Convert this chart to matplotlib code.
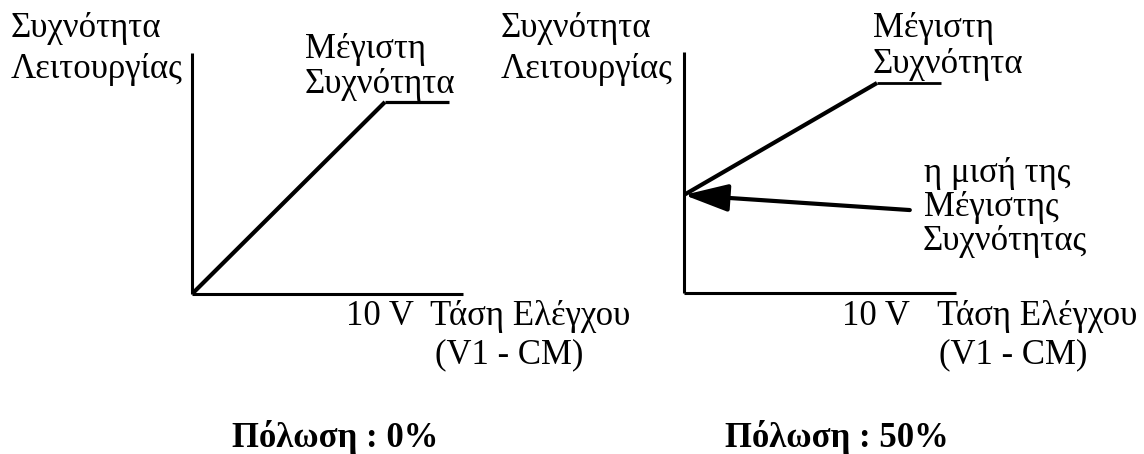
import matplotlib
matplotlib.use("Agg")
import matplotlib.pyplot as plt

plt.rcParams['font.family'] = ['Liberation Serif', 'DejaVu Serif']

W, H = 1144, 454

# control voltage (V) vs output frequency (fraction of max)
volts_0 = [0, 10, 13.3]
freq_0 = [0, 1.0, 1.0]
volts_50 = [0, 10, 13.3]
freq_50 = [0.467, 1.0, 1.0]
arrow_tail = (11.7, 0.395)
arrow_head = (0, 0.467)

titles = ["Πόλωση : 0%", "Πόλωση : 50%"]
ylabel = ["Συχνότητα", "Λειτουργίας"]
maxlabel = ["Μέγιστη", "Συχνότητα"]
halflabel = ["η μισή της", "Μέγιστης", "Συχνότητας"]
xtick = "10 V"
xlabel = ["Τάση Ελέγχου", "(V1 - CM)"]

fig = plt.figure(figsize=(W / 100, H / 100), dpi=100)


def make_ax(x0, y0, sx, sy, xmax, ymax):
    # x0,y0 = pixel position of origin (from top-left), sx/sy = px per unit
    ax = fig.add_axes([x0 / W, (H - y0) / H, xmax * sx / W, ymax * sy / H])
    ax.set_xlim(0, xmax)
    ax.set_ylim(0, ymax)
    ax.set_xticks([])
    ax.set_yticks([])
    ax.patch.set_visible(False)
    for s in ['top', 'right']:
        ax.spines[s].set_visible(False)
    for s in ['left', 'bottom']:
        ax.spines[s].set_linewidth(2.2)
        ax.spines[s].set_capstyle('butt')
    return ax


def txt(x, y, s, **kw):
    # x = left edge, y = baseline, both in pixels from top-left
    kw.setdefault('fontsize', 25)
    kw.setdefault('va', 'baseline')
    fig.text(x / W, 1 - y / H, s, **kw)


ax1 = make_ax(192, 294, 19.3, 192, 14.5, 1.3)
ax1.spines['left'].set_bounds(0, 1.255)
ax1.spines['bottom'].set_bounds(0, 14.04)
ax1.plot(volts_0[:2], freq_0[:2], color='black', lw=3.0, solid_capstyle='butt')
ax1.plot(volts_0[1:], freq_0[1:], color='black', lw=2.3, solid_capstyle='butt')

ax2 = make_ax(684, 293, 19.3, 210, 14.5, 1.3)
ax2.spines['left'].set_bounds(0, 1.148)
ax2.spines['bottom'].set_bounds(0, 14.09)
ax2.plot(volts_50[:2], freq_50[:2], color='black', lw=3.0, solid_capstyle='butt')
ax2.plot(volts_50[1:], freq_50[1:], color='black', lw=2.0, solid_capstyle='butt')
ax2.annotate('', xy=arrow_head, xytext=arrow_tail,
             arrowprops=dict(arrowstyle='-|>,head_length=1.35,head_width=0.42',
                             mutation_scale=20, lw=3, color='black',
                             shrinkA=0, shrinkB=0))

# left panel text
txt(11, 37, ylabel[0])
txt(11, 78, ylabel[1])
txt(305, 58, maxlabel[0])
txt(305, 93, maxlabel[1])
txt(346, 325, xtick)
txt(430, 325, xlabel[0])
txt(435, 363, xlabel[1])
txt(232, 447, titles[0], fontweight='bold')

# right panel text
txt(501, 37, ylabel[0])
txt(501, 78, ylabel[1])
txt(873, 37, maxlabel[0])
txt(873, 73, maxlabel[1])
txt(924, 182, halflabel[0])
txt(924, 216, halflabel[1])
txt(923, 250, halflabel[2])
txt(842, 325, xtick)
txt(937, 325, xlabel[0])
txt(939, 363, xlabel[1])
txt(725, 447, titles[1], fontweight='bold')

fig.savefig('out.png', dpi=100)
